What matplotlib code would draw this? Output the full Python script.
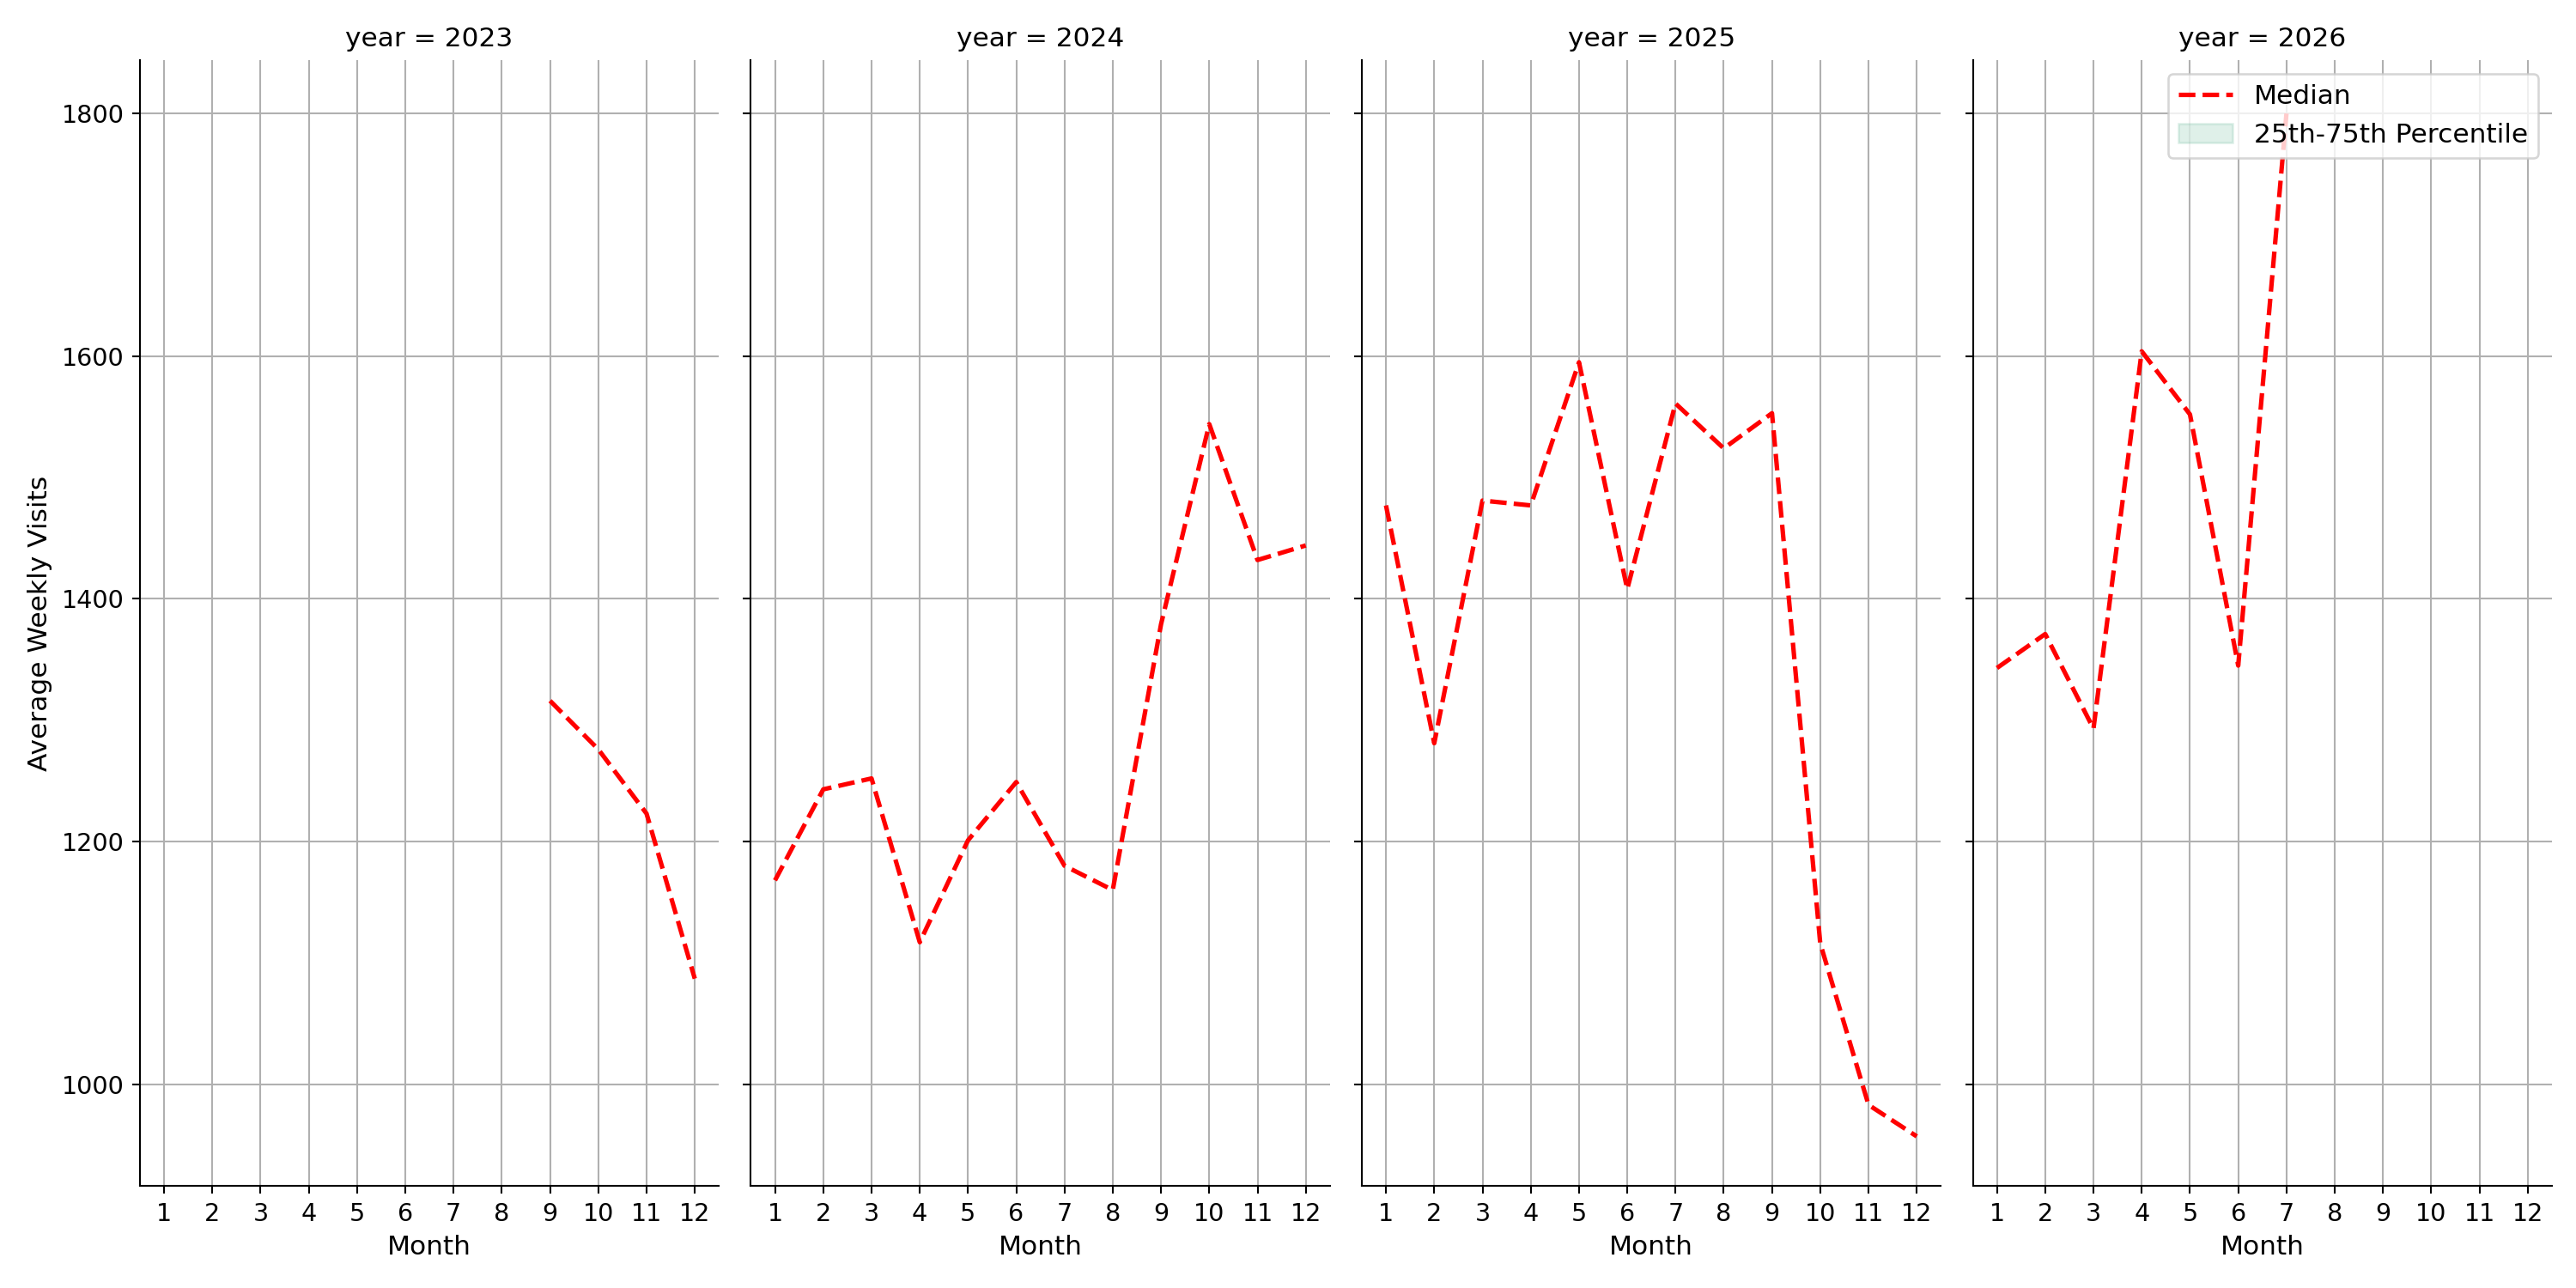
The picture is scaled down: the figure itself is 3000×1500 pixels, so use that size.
import matplotlib.pyplot as plt
import numpy as np

years = [2023, 2024, 2025, 2026]
months = list(range(1, 13))

# медианы по месяцам (None = нет данных)
median_2023 = [None] * 8 + [1316, 1276, 1223, 1087]
median_2024 = [1168, 1243, 1252, 1117, 1201, 1249, 1180, 1160, 1379, 1544, 1432, 1444]
median_2025 = [1477, 1281, 1481, 1477, 1595, 1408, 1561, 1524, 1553, 1116, 983, 957]
median_2026 = [1343, 1371, 1293, 1604, 1552, 1345, 1800] + [None] * 5
medians = [median_2023, median_2024, median_2025, median_2026]


def main():
    fig, axes = plt.subplots(1, 4, figsize=(16, 8), sharey=True)
    for ax, year, med in zip(axes, years, medians):
        x = [m for m, v in zip(months, med) if v is not None]
        y = [v for v in med if v is not None]
        ax.plot(x, y, color='red', linestyle='--', linewidth=2, label='Median')
        ax.fill_between([], [], [], color='#2a9d6f', alpha=0.15,
                        label='25th-75th Percentile')
        ax.set_title(f'year = {year}', fontsize=12)
        ax.set_xlabel('Month', fontsize=12)
        ax.set_xticks(months)
        ax.set_xlim(0.5, 12.5)
        ax.grid(True, color='#b0b0b0')
        ax.spines['top'].set_visible(False)
        ax.spines['right'].set_visible(False)
        ax.tick_params(labelsize=11)
    axes[0].set_ylim(916, 1844)
    axes[0].set_yticks([1000, 1200, 1400, 1600, 1800])
    axes[0].set_ylabel('Average Weekly Visits', fontsize=12)
    axes[-1].legend(loc='upper right', fontsize=12)
    plt.tight_layout()
    fig.savefig('out.png', dpi=187.5)


if __name__ == "__main__":
    main()
